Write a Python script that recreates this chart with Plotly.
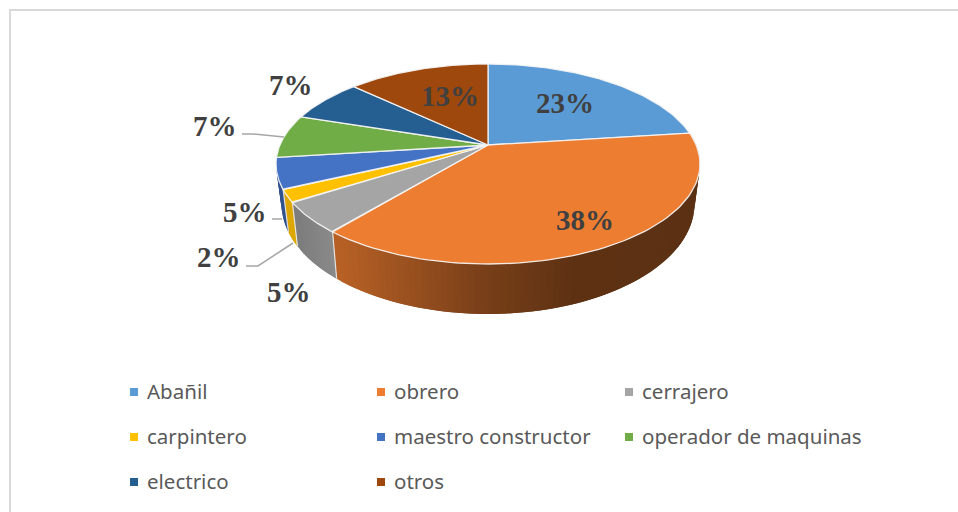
import numpy as np
import plotly.graph_objects as go

categories = ["Abañil", "obrero", "cerrajero", "carpintero", "maestro constructor",
              "operador de maquinas", "electrico", "otros"]
percent_values = [23, 38, 5, 2, 5, 7, 7, 13]
slice_colors = ["#5B9BD5", "#ED7D31", "#A5A5A5", "#FFC000", "#4472C4", "#70AD47", "#255E91", "#9E480E"]
label_texts = ["23%", "38%", "5%", "2%", "5%", "7%", "7%", "13%"]
W, H = 958, 512

# page-pixel based projective view of the tilted disc
K = -0.19
TOP = dict(cx=488.0, cy=145.0, a=208.1, b=96.4)
LOW = dict(cx=488.0, cy=183.1, a=202.7, b=106.0)


def project(theta, p):
    u, v = np.sin(theta), -np.cos(theta)
    d = 1 + K * v
    return p["cx"] + p["a"] * u / d, p["cy"] + p["b"] * v / d


# wall shading: page x -> brightness factor, per slice
shade_x = {1: [337, 480, 570, 700], 2: [297, 337], 3: [290, 297], 4: [277, 290]}
shade_f = {1: [0.78, 0.51, 0.40, 0.39], 2: [0.76, 0.85], 3: [0.87, 0.87], 4: [0.72, 0.72]}


def shaded(hex_color, f):
    r, g, b = (int(hex_color[i:i + 2], 16) for i in (1, 3, 5))
    return f"rgb({int(r * f)},{int(g * f)},{int(b * f)})"


fractions = np.array(percent_values, dtype=float) / sum(percent_values)
edges = np.concatenate([[0.0], np.cumsum(fractions)]) * 2 * np.pi

fig = go.Figure()

# side walls: each strip overlaps the previous one so no seams appear
for i in shade_x:
    t0, t1 = edges[i], edges[i + 1]
    n = 90 if i == 1 else 10
    ts = np.linspace(t0, t1, n + 1)
    dt = ts[1] - ts[0]
    for a, b in zip(ts[:-1], ts[1:]):
        tt = np.linspace(max(t0, a - dt), b, 4)
        x1, y1 = project(tt, TOP)
        x2, y2 = project(tt[::-1], LOW)
        xs = np.concatenate([x1, x2, x1[:1]])
        ys = np.concatenate([y1, y2, y1[:1]])
        col = shaded(slice_colors[i], float(np.interp(xs.mean(), shade_x[i], shade_f[i])))
        fig.add_trace(go.Scatter(x=xs, y=ys, mode="lines", fill="toself", fillcolor=col,
                                 line=dict(width=0), hoverinfo="skip", showlegend=False))

# light edges between the wall pieces
for i in (2, 3, 4):
    x1, y1 = project(edges[i], TOP)
    x2, y2 = project(edges[i], LOW)
    fig.add_trace(go.Scatter(x=[x1, x2], y=[y1, y2], mode="lines",
                             line=dict(color="rgba(235,235,235,0.9)", width=1.2),
                             hoverinfo="skip", showlegend=False))

# top faces
for i, name in enumerate(categories):
    tt = np.linspace(edges[i], edges[i + 1], 80)
    x, y = project(tt, TOP)
    xs = np.concatenate([[TOP["cx"]], x, [TOP["cx"]]])
    ys = np.concatenate([[TOP["cy"]], y, [TOP["cy"]]])
    fig.add_trace(go.Scatter(x=xs, y=ys, mode="lines", fill="toself", fillcolor=slice_colors[i],
                             line=dict(color="rgba(245,245,245,0.9)", width=1.3),
                             name=name, hoverinfo="name", showlegend=False))

# hand-placed legend squares (three columns, three rows)
leg_x = [134, 381, 629, 134, 381, 629, 134, 381]
leg_y = [392, 392, 392, 437, 437, 437, 482, 482]
fig.add_trace(go.Scatter(x=leg_x, y=leg_y, mode="markers",
                         marker=dict(symbol="square", size=8, color=slice_colors),
                         hoverinfo="skip", showlegend=False))

annotations = []
for name, lx, ly in zip(categories, leg_x, leg_y):
    annotations.append(dict(x=lx + 11, y=ly - 1, text=name, xref="x", yref="y", showarrow=False,
                            xanchor="left", yanchor="middle",
                            font=dict(family="Noto Sans", size=20.5, color="#595959")))

label_pos = [(565, 103), (585, 220), (289, 292), (219, 257), (245, 212), (215, 126), (291, 85), (450, 96)]
for txt, (lx, ly) in zip(label_texts, label_pos):
    annotations.append(dict(x=lx, y=ly, text=f"<b>{txt}</b>", xref="x", yref="y", showarrow=False,
                            xanchor="center", yanchor="middle",
                            font=dict(family="Liberation Serif", size=29, color="#404040")))

leader = dict(type="path", xref="x", yref="y", line=dict(color="#A6A6A6", width=1.5))
frame = dict(type="line", xref="x", yref="y", line=dict(color="#D9D9D9", width=2), layer="below")
shapes = [
    dict(leader, path="M 242 134 L 253 134 L 284 137"),
    dict(leader, path="M 272 219 L 282 219"),
    dict(leader, path="M 246 266 L 258 266 L 293 243"),
    dict(frame, x0=9, y0=10, x1=W, y1=10),
    dict(frame, x0=10, y0=10, x1=10, y1=H),
]

fig.update_layout(
    width=W, height=H, margin=dict(l=0, r=0, t=0, b=0),
    paper_bgcolor="white", plot_bgcolor="white", showlegend=False,
    xaxis=dict(range=[0, W], visible=False, fixedrange=True),
    yaxis=dict(range=[H, 0], visible=False, fixedrange=True),
    annotations=annotations, shapes=shapes,
)
fig.write_html("out.html", config=dict(displayModeBar=False),
               post_script="document.body.style.margin='0';document.body.style.overflow='hidden';")
